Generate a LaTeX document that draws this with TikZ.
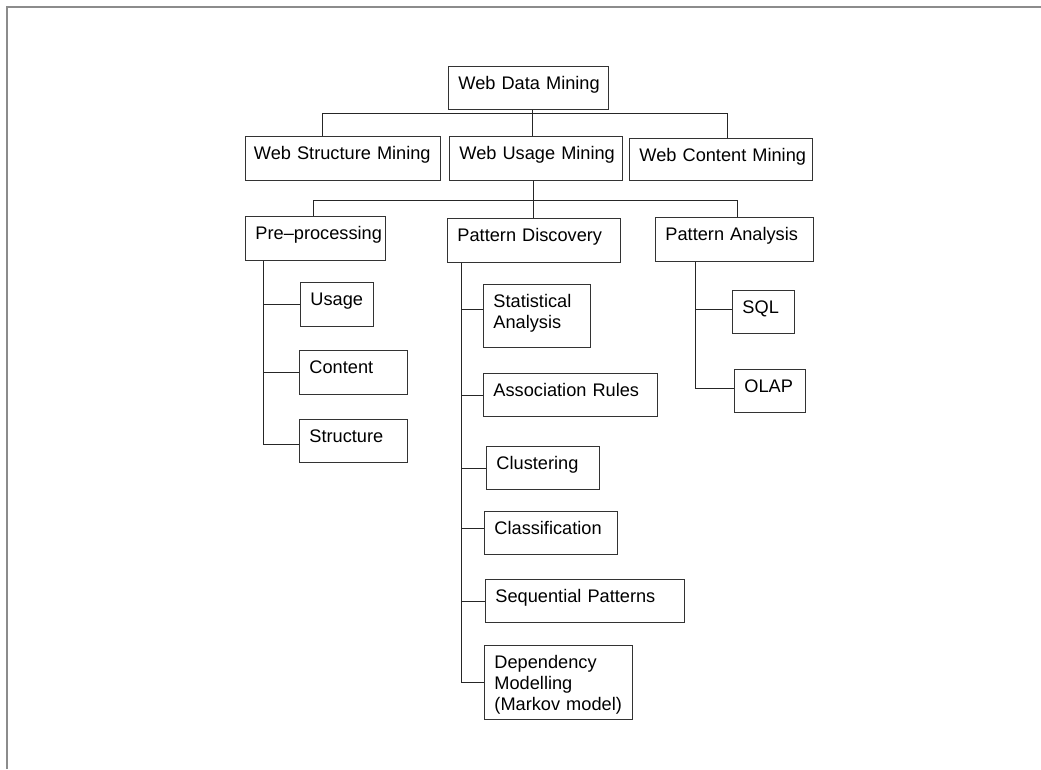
\documentclass[tikz,border=0pt]{standalone}
\usepackage{fontspec}
\setmainfont{Liberation Sans}
\definecolor{framegray}{HTML}{8C8C8C}
\begin{document}
\begin{tikzpicture}[x=1pt,y=-1pt,
  box/.style={draw=black!80, line width=0.9pt, anchor=north west,
    inner xsep=10pt, inner ysep=0pt, text height=23pt, align=left,
    font=\fontsize{18.2}{20.8}\selectfont,
    execute at begin node={\hyphenpenalty=10000\exhyphenpenalty=10000}},
  sz/.style 2 args={text width=#1pt, text depth=#2pt},
  link/.style={draw=black!85, line width=0.9pt}]
\useasboundingbox (0,0) rectangle (1041,769);

% outer frame (top and left edges only)
\draw[framegray, line width=2pt] (7,769) -- (7,7) -- (1041,7);

% level 0 and 1
\node[box, sz={140}{20}] (wdm) at (448,66) {Web~Data~Mining};
\node[box, inner xsep=8.5pt, sz={178}{21}] (wsm) at (245,136) {Web~Structure~Mining};
\node[box, sz={153}{21}] (wum) at (449,136) {Web~Usage~Mining};
\node[box, sz={163}{19}] (wcm) at (629,138) {Web~Content~Mining};

% level 2
\node[box, sz={120}{21}] (pre) at (245,216) {Pre–processing};
\node[box, sz={153}{21}] (pd) at (447,218) {Pattern~Discovery};
\node[box, sz={138}{21}] (pa) at (655,217) {Pattern~Analysis};

% pre-processing leaves
\node[box, sz={53}{21}] (usage) at (300,282) {Usage};
\node[box, sz={88}{21}] (content) at (299,350) {Content};
\node[box, sz={88}{20}] (structure) at (299,419) {Structure};

% pattern discovery leaves
\node[box, sz={87}{40}] (stat) at (483,284) {Statistical\\Analysis};
\node[box, sz={154}{20}] (assoc) at (483,373) {Association~Rules};
\node[box, sz={93}{20}] (clust) at (486,446) {Clustering};
\node[box, sz={113}{20}] (class) at (484,511) {Classification};
\node[box, sz={179}{20}] (seq) at (485,579) {Sequential~Patterns};
\node[box, sz={128}{51}] (dep) at (484,645) {Dependency\\Modelling\\(Markov~model)};

% pattern analysis leaves
\node[box, sz={42}{20}] (sql) at (732,290) {SQL};
\node[box, sz={51}{20}] (olap) at (734,369) {OLAP};

% first bus
\coordinate (wdmD) at ([xshift=4pt]wdm.south);
\draw[link] (wdmD) -- (wdmD |- wum.north);
\coordinate (bus1) at ([yshift=-4pt]wdmD);
\coordinate (wsmT) at ([xshift=-20.5pt]wsm.north);
\coordinate (wcmT) at ([xshift=6.5pt]wcm.north);
\draw[link] (wsmT) |- (bus1) -| (wcmT);

% second bus
\coordinate (wumD) at ([xshift=-2.5pt]wum.south);
\draw[link] (wumD) -- (wumD |- pd.north);
\coordinate (bus2) at ([yshift=-19.3pt]wumD);
\coordinate (preT) at ([xshift=-2pt]pre.north);
\coordinate (paT) at ([xshift=3pt]pa.north);
\draw[link] (preT) |- (bus2) -| (paT);

% pre-processing trunk
\coordinate (preS) at ([xshift=18pt]pre.south west);
\coordinate (structB) at ([yshift=-3pt]structure.west);
\draw[link] (preS) |- (structB);
\draw[link] (preS |- usage.west) -- (usage.west);
\draw[link] (preS |- content.west) -- (content.west);

% pattern discovery trunk
\coordinate (pdS) at ([xshift=14pt]pd.south west);
\coordinate (statB) at ([yshift=7pt]stat.west);
\coordinate (classB) at ([yshift=5pt]class.west);
\draw[link] (pdS) |- (dep.west);
\draw[link] (pdS |- statB) -- (statB);
\draw[link] (pdS |- classB) -- (classB);
\foreach \n in {assoc, clust, seq} \draw[link] (pdS |- \n.west) -- (\n.west);

% pattern analysis trunk
\coordinate (paS) at ([xshift=40pt]pa.south west);
\coordinate (olapB) at ([yshift=2.5pt]olap.west);
\coordinate (sqlB) at ([yshift=2.5pt]sql.west);
\draw[link] (paS) |- (olapB);
\draw[link] (paS |- sqlB) -- (sqlB);
\end{tikzpicture}
\end{document}
